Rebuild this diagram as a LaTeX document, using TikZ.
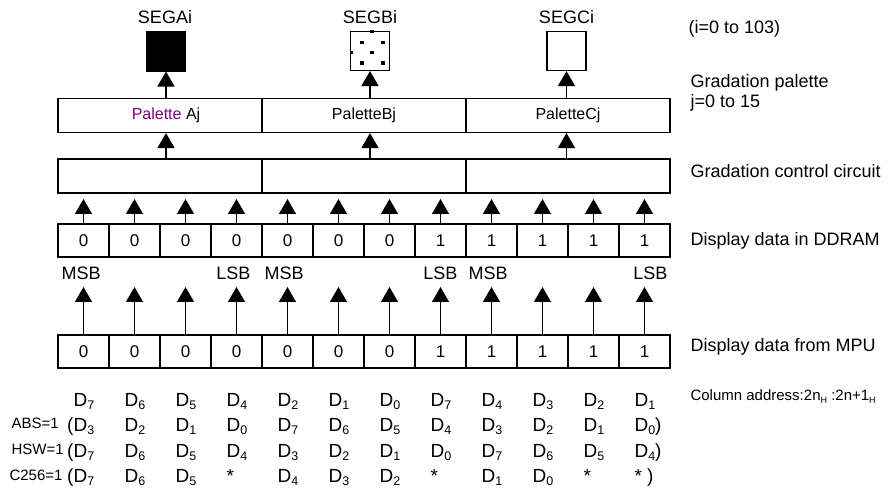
\documentclass[tikz,border=0pt]{standalone}
\usepackage{fontspec}
\setmainfont{Liberation Sans}
\usetikzlibrary{arrows.meta,calc}
\definecolor{palpurple}{RGB}{128,0,128}
% lowered index for the bit names
\newcommand\dsub[2][12.5]{\raisebox{-3.5pt}{\fontsize{#1}{#1}\selectfont #2}}

\begin{document}
\begin{tikzpicture}[x=1pt,y=-1pt,
        %Option for arrows%
        >={Triangle[width=17pt,length=15pt]},%
        line width=1.1pt,%
        inner sep=0pt,%
        cell/.style={draw, minimum width=51pt, minimum height=33pt,
            font=\fontsize{17}{17}\selectfont},%
        wide/.style={draw, minimum width=204pt, minimum height=34pt,
            font=\fontsize{16}{16}\selectfont},%
        seg/.style={draw, minimum size=39pt},%
        big/.style={font=\fontsize{18}{20}\selectfont},%
        bit/.style={anchor=base west, font=\fontsize{19}{19}\selectfont},%
        flag/.style={anchor=base west, font=\fontsize{15}{16}\selectfont},%
        arr/.style={->, line width=1.5pt}%
    ]
    \useasboundingbox (0,0) rectangle (895,489);
    %% some definitions
    \def\xL{58}    % left edge of the cells
    \def\cw{51}    % cell width
    %
    %% segments
    \node[seg, fill=black] (segA) at (166,51.5) {};
    \node[seg]             (segB) at (370,51)   {};
    \node[seg]             (segC) at (566.5,51) {};
    \node[big, anchor=base] (labA) at (165,24) {SEGAi};
    \node[big, anchor=base] (labB) at (370,24) {SEGBi};
    \node[big, anchor=base] (labC) at (566.5,24) {SEGCi};
    % dots of the half tone
    \foreach \px/\py in {372/31.5, 362/42.5, 383/42.5, 351.5/52.5,
                         372/52.5, 362/63, 383/63}{
        \fill (\px-1.6,\py-1.6) rectangle (\px+1.6,\py+1.6);
    }
    %
    %% palette and control
    \node[wide] (palA) at (160,115.5) {\hspace*{12pt}\textcolor{palpurple}{Palette} Aj};
    \node[wide] (palB) at (364,115.5) {PaletteBj};
    \node[wide] (palC) at (568,115.5) {PaletteCj};
    \node[wide] (ctlA) at (160,176) {};
    \node[wide] (ctlB) at (364,176) {};
    \node[wide] (ctlC) at (568,176) {};
    \foreach \s in {A,B,C}{
        \draw[arr] (pal\s.north -| seg\s) -- (seg\s.south);
        \draw[arr] (seg\s |- ctl\s.north) -- (seg\s |- pal\s.south);
    }
    %
    %% display data
    \foreach \v [count=\i] in {0,0,0,0,0,0,0,1,1,1,1,1}{
        \node[cell] (d\i) at ({\xL+\cw*(\i-0.5)},240.5) {\v};
        \node[cell] (m\i) at ({\xL+\cw*(\i-0.5)},351.5) {\v};
        \coordinate (dt\i) at ({\xL+\cw*(\i-0.5)},199);
        \coordinate (mt\i) at ({\xL+\cw*(\i-0.5)},287);
        \draw[arr] (d\i.north) -- (dt\i);
        \draw[arr] (m\i.north) -- (mt\i);
    }
    \node[big, anchor=base west] (msb1) at (61,280)  {MSB};
    \node[big, anchor=base east] (lsb1) at (251,280) {LSB};
    \node[big, anchor=base west] (msb2) at (264,280) {MSB};
    \node[big, anchor=base east] (lsb2) at (458,280) {LSB};
    \node[big, anchor=base west] (msb3) at (468,280) {MSB};
    \node[big, anchor=base east] (lsb3) at (668,280) {LSB};
    %
    %% bit assignment
    \foreach \b [count=\i] in {D\dsub{7},D\dsub{6},D\dsub{5},D\dsub{4},
            D\dsub{2},D\dsub{1},D\dsub{0},D\dsub{7},D\dsub{4},D\dsub{3},
            D\dsub{2},D\dsub{1}}{
        \node[bit] (bN\i) at ({\xL+\cw*(\i-0.5)-10.5},406) {\b};
    }
    \foreach \b [count=\i] in {\llap{(}D\dsub{3},D\dsub{2},D\dsub{1},
            D\dsub{0},D\dsub{7},D\dsub{6},D\dsub{5},D\dsub{4},D\dsub{3},
            D\dsub{2},D\dsub{1},D\dsub{0}\rlap{)}}{
        \node[bit] (bA\i) at ({\xL+\cw*(\i-0.5)-10.5},431) {\b};
    }
    \foreach \b [count=\i] in {\llap{(}D\dsub{7},D\dsub{6},D\dsub{5},
            D\dsub{4},D\dsub{3},D\dsub{2},D\dsub{1},D\dsub{0},D\dsub{7},
            D\dsub{6},D\dsub{5},D\dsub{4}\rlap{)}}{
        \node[bit] (bH\i) at ({\xL+\cw*(\i-0.5)-10.5},457) {\b};
    }
    \foreach \b [count=\i] in {\llap{(}D\dsub{7},D\dsub{6},D\dsub{5},*,
            D\dsub{4},D\dsub{3},D\dsub{2},*,D\dsub{1},D\dsub{0},*,* )}{
        \node[bit] (bC\i) at ({\xL+\cw*(\i-0.5)-10.5},482) {\b};
    }
    \node[flag] (abs)  at (11,428) {ABS=1};
    \node[flag] (hsw)  at (11,454) {HSW=1};
    \node[flag] (c256) at (9,480) {C256=1};
    %
    %% descriptions
    \node[big, anchor=base west] (idx) at (688,34) {(i=0 to 103)};
    \node[big, anchor=base west, align=left] (palLbl) at (690,108)
        {Gradation palette\\j=0 to 15};
    \node[big, anchor=base west] (ctlLbl) at (690,178) {Gradation control circuit};
    \node[big, anchor=base west] (ddrLbl) at (690,246) {Display data in DDRAM};
    \node[big, anchor=base west] (mpuLbl) at (690,352) {Display data from MPU};
    \node[anchor=base west, font=\fontsize{15}{15}\selectfont] (colLbl) at (690,400)
        {Column address:2n\dsub[9]{H} :2n+1\dsub[9]{H}};
\end{tikzpicture}
\end{document}
